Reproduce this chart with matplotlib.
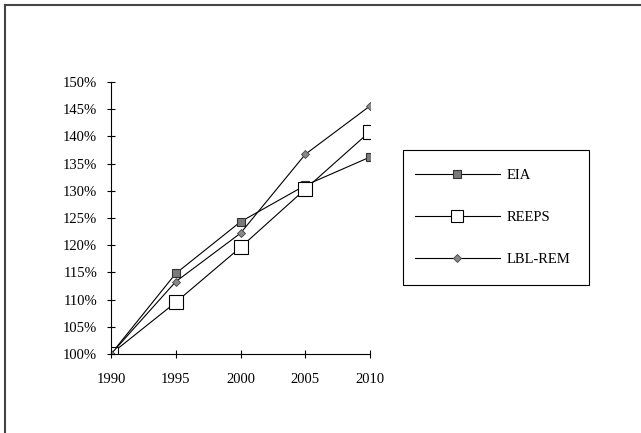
import matplotlib
matplotlib.use("Agg")
import matplotlib.pyplot as plt
from matplotlib.lines import Line2D
from matplotlib.patches import Rectangle

plt.rcParams['font.family'] = ['Liberation Serif', 'DejaVu Serif']

years = [1990, 1995, 2000, 2005, 2010]
eia = [100, 114.8, 124.3, 131.0, 136.2]
reeps = [100, 109.5, 119.6, 130.3, 140.9]
lbl_rem = [100, 113.3, 122.2, 136.7, 145.6]
yticks = [100, 105, 110, 115, 120, 125, 130, 135, 140, 145, 150]

W, H = 641, 433
fig = plt.figure(figsize=(6.41, 4.33), dpi=100)
ax = fig.add_axes([111 / W, 1 - 354 / H, 259 / W, 272 / H])

ax.plot(years, eia, color='black', lw=0.8, marker='s', markersize=6,
        markerfacecolor='#7a7a7a', markeredgecolor='#333333', markeredgewidth=0.8, label='EIA')
ax.plot(years, reeps, color='black', lw=0.8, marker='s', markersize=10,
        markerfacecolor='white', markeredgecolor='black', markeredgewidth=0.8, label='REEPS')
ax.plot(years, lbl_rem, color='black', lw=0.8, marker='D', markersize=4,
        markerfacecolor='#888888', markeredgecolor='#444444', markeredgewidth=0.6, label='LBL-REM')

ax.set_xlim(1990, 2010)
ax.set_ylim(100, 150)
ax.set_xticks(years)
ax.set_yticks(yticks)
ax.set_yticklabels([f"{v}%" for v in yticks])
for s in ['top', 'right']:
    ax.spines[s].set_visible(False)
for s in ['left', 'bottom']:
    ax.spines[s].set_linewidth(0.8)
ax.tick_params(axis='both', direction='inout', length=6, width=0.8, labelsize=10.5)
ax.tick_params(axis='x', pad=11)
ax.tick_params(axis='y', pad=7)

# legend entries without frame, frame drawn separately
leg = ax.legend(loc='upper left', bbox_to_anchor=(415 / W, 1 - 169 / H),
                bbox_transform=fig.transFigure, fontsize=10.5, frameon=False,
                handlelength=5.8, handletextpad=0.5, labelspacing=1.98, borderpad=0,
                borderaxespad=0)
leg.legend_handles[1].set_markersize(8)
fig.add_artist(Rectangle((403 / W, 1 - 285 / H), 186 / W, 135 / H,
                         transform=fig.transFigure, fill=False, lw=0.8, edgecolor='black'))

# outer chart frame (top and left edges only visible)
fig.add_artist(Line2D([5 / W, 1], [1 - 5 / H, 1 - 5 / H], color='#444444', lw=1.5))
fig.add_artist(Line2D([5 / W, 5 / W], [0, 1 - 5 / H], color='#444444', lw=1.5))

fig.savefig('out.png', dpi=100)
